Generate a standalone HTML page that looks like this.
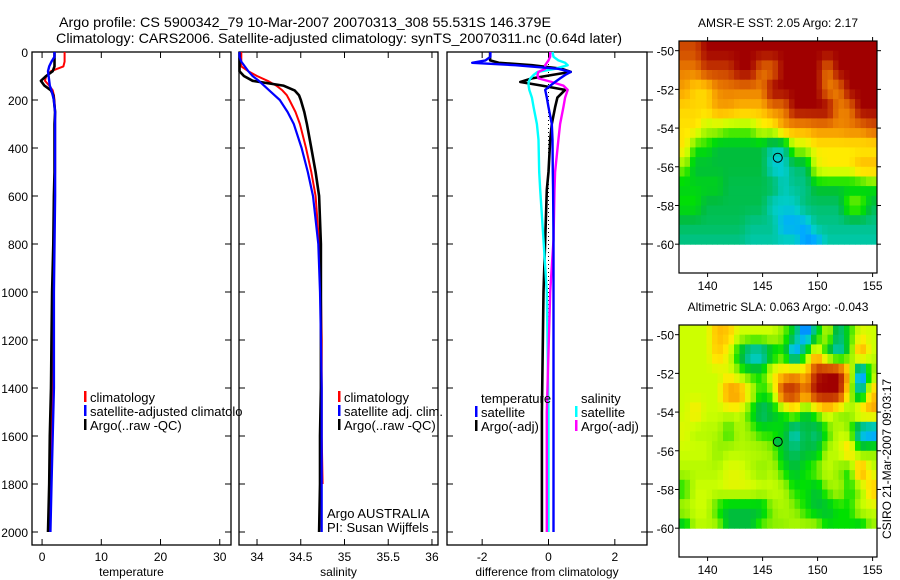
<!DOCTYPE html>
<html><head><meta charset="utf-8">
<style>
html,body{margin:0;padding:0;background:#fff;}
svg{display:block;font-family:"Liberation Sans",sans-serif;}
text{fill:#000;}
</style></head>
<body>
<svg id="fig" width="900" height="580" viewBox="0 0 900 580" xmlns="http://www.w3.org/2000/svg">
<defs><clipPath id="clip1"><rect x="32" y="0" width="210" height="580"/></clipPath></defs>
<text x="59" y="27" font-size="14" textLength="492" lengthAdjust="spacingAndGlyphs">Argo profile: CS 5900342_79 10-Mar-2007 20070313_308 55.531S 146.379E</text>
<text x="56" y="43" font-size="14" textLength="566" lengthAdjust="spacingAndGlyphs">Climatology: CARS2006. Satellite-adjusted climatology: synTS_20070311.nc (0.64d later)</text>
<g id="layer"></g>
</svg>
<script>
// ---- profile data ----
const depths = [0,20,40,60,80,100,120,140,160,180,200,250,300,400,500,600,800,1000,1200,1400,1600,1800,2000];
const climT = [3.8,3.8,3.8,3.6,1.5,0.7,0.5,1.2,1.8,2.0,2.1,2.2,2.2,2.2,2.2,2.1,2.0,1.9,1.8,1.7,1.6,1.4,1.2];
const satT  = [2.1,2.1,1.6,1.2,1.0,1.1,1.2,1.3,1.6,1.8,2.0,2.2,2.2,2.2,2.2,2.2,2.1,2.0,2.0,2.0,1.8,1.6,1.4];
const argoT = [2.1,2.1,2.1,2.1,1.8,0.7,-0.2,0.4,1.5,1.9,2.0,2.2,2.1,2.1,2.1,2.0,1.9,1.7,1.6,1.5,1.3,1.2,1.0];
const climS = [33.82,33.82,33.82,33.82,33.9,34.0,34.12,34.22,34.29,34.34,34.37,34.44,34.49,34.56,34.62,34.67,34.71,34.73,34.74,34.74,34.74,34.75,34.74];
const satS  = [33.8,33.8,33.82,33.86,33.9,33.95,34.02,34.08,34.14,34.2,34.26,34.35,34.42,34.51,34.58,34.64,34.7,34.72,34.73,34.74,34.74,34.74,34.74];
const argoS = [33.8,33.8,33.8,33.8,33.8,33.85,33.95,34.3,34.43,34.48,34.5,34.54,34.57,34.62,34.67,34.71,34.73,34.73,34.73,34.73,34.72,34.72,34.71];
const diffDepths = [0,20,35,45,55,70,83,96,110,125,140,158,190,230,300,366,500,575,783,1000,1500,2000];
const dTempSat  = [-1.75,-1.75,-1.9,-2.3,-1.0,0.3,0.67,0.5,0.35,0.2,0.05,-0.1,-0.05,0.0,0.1,0.12,0.13,0.14,0.15,0.15,0.15,0.15];
const dTempArgo = [-1.76,-1.76,-1.76,-1.5,-0.5,0.4,0.67,0.1,-0.5,-0.85,-0.2,0.5,0.27,0.2,0.1,0.05,0.0,-0.05,-0.1,-0.15,-0.2,-0.2];
const dSalSat   = [0.12,0.15,0.3,0.5,0.58,0.2,-0.33,-0.45,-0.55,-0.6,-0.6,-0.58,-0.5,-0.45,-0.35,-0.3,-0.28,-0.25,-0.15,-0.05,0.0,0.0];
const dSalArgo  = [0.05,0.05,0.0,-0.05,-0.1,-0.1,-0.3,-0.33,-0.3,0.1,0.45,0.58,0.5,0.45,0.35,0.3,0.2,0.18,0.15,0.05,-0.05,-0.05];
const depthTicks = [0,200,400,600,800,1000,1200,1400,1600,1800,2000];
const tempTicks = [0,10,20,30];
const salTicks = [34,34.5,35,35.5,36];
const diffTicks = [-2,0,2];
// ---- map data (colour index 0..1), rows from -50 southward, 18 cols of 1 deg from 137.9E (cell centres) ----
const sstGrid = [
[0.88,0.88,1,1,1,1,1,1,1,1,1,1,1,1,1,1,1,1],
[0.8,0.8,0.9,0.9,0.9,1,1,0.82,0.82,1,1,1,1,0.8,1,1,1,1],
[0.75,0.68,0.68,0.78,0.8,0.8,0.8,0.8,1,1,1,1,1,0.8,0.8,1,1,1],
[0.68,0.68,0.68,0.75,0.75,0.72,0.72,0.72,0.8,0.8,1,1,1,1,0.8,0.8,1,1],
[0.66,0.66,0.58,0.58,0.55,0.55,0.55,0.62,0.62,0.75,0.75,0.75,0.78,0.78,0.78,0.8,0.8,0.85],
[0.66,0.5,0.5,0.45,0.45,0.45,0.45,0.45,0.38,0.38,0.58,0.58,0.65,0.65,0.65,0.65,0.65,0.65],
[0.55,0.45,0.45,0.45,0.45,0.45,0.45,0.45,0.35,0.35,0.42,0.42,0.62,0.65,0.65,0.65,0.72,0.72],
[0.48,0.48,0.48,0.48,0.44,0.44,0.44,0.44,0.44,0.37,0.4,0.4,0.47,0.47,0.47,0.47,0.47,0.5],
[0.5,0.5,0.44,0.44,0.44,0.44,0.44,0.44,0.36,0.36,0.36,0.42,0.42,0.42,0.42,0.55,0.55,0.44],
[0.43,0.43,0.43,0.43,0.43,0.43,0.4,0.4,0.4,0.32,0.32,0.32,0.4,0.4,0.4,0.4,0.4,0.4],
[0.4,0.4,0.4,0.4,0.4,0.4,0.38,0.38,0.38,0.38,0.38,0.3,0.3,0.38,0.38,0.38,0.38,0.38]];
const slaGrid = [
[0.6,0.6,0.6,0.72,0.7,0.6,0.6,0.6,0.6,0.55,0.45,0.25,0.45,0.6,0.4,0.5,0.62,0.6],
[0.6,0.6,0.6,0.7,0.62,0.45,0.33,0.33,0.45,0.5,0.25,0.5,0.7,0.45,0.35,0.5,0.78,0.6],
[0.6,0.6,0.6,0.6,0.62,0.55,0.5,0.5,0.65,0.7,0.75,0.7,0.95,1,1,0.7,0.2,0.55],
[0.6,0.6,0.6,0.6,0.78,0.78,0.62,0.5,0.55,0.95,0.95,0.8,1,1,1,0.6,0.35,0.7],
[0.6,0.66,0.6,0.6,0.6,0.6,0.5,0.4,0.45,0.5,0.6,0.45,0.55,0.65,0.55,0.55,0.72,0.75],
[0.62,0.58,0.58,0.58,0.5,0.58,0.55,0.5,0.5,0.48,0.35,0.45,0.4,0.5,0.6,0.55,0.3,0.25],
[0.6,0.6,0.6,0.55,0.58,0.58,0.58,0.58,0.55,0.45,0.42,0.45,0.45,0.58,0.6,0.7,0.5,0.55],
[0.58,0.58,0.58,0.58,0.62,0.62,0.58,0.55,0.58,0.5,0.45,0.5,0.55,0.6,0.55,0.5,0.78,0.6],
[0.5,0.6,0.6,0.6,0.62,0.62,0.62,0.6,0.6,0.58,0.5,0.5,0.45,0.55,0.58,0.5,0.55,0.7],
[0.58,0.6,0.6,0.5,0.45,0.45,0.45,0.45,0.55,0.58,0.55,0.5,0.45,0.45,0.5,0.5,0.6,0.6],
[0.45,0.58,0.58,0.58,0.45,0.45,0.45,0.55,0.55,0.55,0.58,0.58,0.58,0.5,0.5,0.5,0.45,0.55]];
const lonTicks = [140,145,150,155];
const latTicks = [-50,-52,-54,-56,-58,-60];
const floatLon = 146.379, floatLat = -55.531;

const NS = "http://www.w3.org/2000/svg";
const layer = document.getElementById('layer');
function mk(tag, attrs, parent){ const e=document.createElementNS(NS,tag); for(const k in attrs) e.setAttribute(k,attrs[k]); (parent||layer).appendChild(e); return e; }
function txt(x,y,s,size,anchor,parent){ const t=mk('text',{x:x,y:y,'font-size':size,'text-anchor':anchor||'start'},parent); t.textContent=s; return t; }

const Y0=52, Y1=545;
const yD = d => 52 + d*0.24;

function panel(name, x0, x1, vmin, vmax, ticks, label, fmt){
  const g = mk('g',{});
  
  
  const xs = v => x0 + (v - vmin)/(vmax - vmin)*(x1 - x0);
  const fr = mk('rect',{x:x0,y:Y0,width:x1-x0,height:Y1-Y0,fill:'none',stroke:'#000','stroke-width':1.3},g);
  
  
  ticks.forEach(v=>{
    const x=xs(v);
    mk('line',{x1:x,x2:x,y1:Y0,y2:Y0+6,stroke:'#000'},g);
    mk('line',{x1:x,x2:x,y1:Y1,y2:Y1-6,stroke:'#000'},g);
    const t=txt(x,Y1+16,fmt(v),12,'middle',g);
    
    
  });
  depthTicks.forEach(d=>{
    const y=yD(d);
    mk('line',{x1:x0,x2:x0+6,y1:y,y2:y,stroke:'#000'},g);
    mk('line',{x1:x1,x2:x1-6,y1:y,y2:y,stroke:'#000'},g);
  });
  const lab=txt((x0+x1)/2, 576, label, 12, 'middle', g);
  
  
  return {g, xs};
}
function series(p, name, xs, ds, vals, color, w, dash){
  let d='';
  vals.forEach((v,i)=>{ d += (i?'L':'M') + xs(v).toFixed(1) + ',' + yD(ds[i]).toFixed(1); });
  const a={d:d,fill:'none',stroke:color,'stroke-width':w,'stroke-linejoin':'round'};
  if(dash) a['stroke-dasharray']=dash;
  const path = mk('path',a,p);
  
  
}
function legend(p, x, y, color, label, name){
  if(color){
    const b = mk('rect',{x:x-6,y:y-11,width:2.5,height:11,fill:color},p);
    
    
  }
  const t = txt(x, y, label, 13, 'start', p);
  
  
  return t;
}

depthTicks.forEach(d=>{
  const t=txt(28, yD(d)+5, String(d), 12, 'end');
  
  
});

// Panel 1 temperature
const p1 = panel('temperature-panel', 32, 231, -1.7, 31.9, tempTicks, 'temperature', v=>String(v));
series(p1.g,'temp-climatology-line',p1.xs,depths,climT,'#f00',2);
series(p1.g,'temp-argo-line',p1.xs,depths,argoT,'#000',2.6);
series(p1.g,'temp-satellite-adjusted-line',p1.xs,depths,satT,'#00f',2.4);
const lg1 = mk('g',{'clip-path':'url(#clip1)'},p1.g);
legend(lg1, 90, 402, '#f00', 'climatology', 'temp-legend-climatology');
legend(lg1, 90, 416, '#00f', 'satellite-adjusted climatology', 'temp-legend-satellite');
legend(lg1, 90, 430, '#000', 'Argo(..raw -QC)', 'temp-legend-argo');

// Panel 2 salinity
const p2 = panel('salinity-panel', 239, 438, 33.794, 36.069, salTicks, 'salinity', v=>String(v));
series(p2.g,'sal-climatology-line',p2.xs,depths.slice(0,22),climS.slice(0,22),'#f00',2);
series(p2.g,'sal-argo-line',p2.xs,depths,argoS,'#000',2.6);
series(p2.g,'sal-satellite-adjusted-line',p2.xs,depths,satS,'#00f',2.2);
legend(p2.g, 344, 402, '#f00', 'climatology', 'sal-legend-climatology');
legend(p2.g, 344, 416, '#00f', 'satellite adj. clim.', 'sal-legend-satellite');
legend(p2.g, 344, 430, '#000', 'Argo(..raw -QC)', 'sal-legend-argo');
legend(p2.g, 327, 518, null, 'Argo AUSTRALIA', 'argo-australia-note');
legend(p2.g, 327, 532, null, 'PI: Susan Wijffels', 'pi-note');

// Panel 3 difference
const p3 = panel('difference-panel', 447, 647, -3.06, 2.97, diffTicks, 'difference from climatology', v=>String(v));
depthTicks.forEach(d=>{ mk('line',{x1:647,x2:653,y1:yD(d),y2:yD(d),stroke:'#000'},p3.g); });
series(p3.g,'zero-reference-line',p3.xs,[0,2000],[0,0],'#000',1,'1,3');
series(p3.g,'diff-temp-argo-line',p3.xs,diffDepths,dTempArgo,'#000',2.6);
series(p3.g,'diff-sal-satellite-line',p3.xs,diffDepths,dSalSat,'#0ff',2.4);
series(p3.g,'diff-sal-argo-line',p3.xs,diffDepths,dSalArgo,'#f0f',2.4);
series(p3.g,'diff-temp-satellite-line',p3.xs,diffDepths,dTempSat,'#00f',2.4);
legend(p3.g, 481, 403, null, 'temperature', 'diff-legend-temperature-header');
legend(p3.g, 481, 417, '#00f', 'satellite', 'diff-legend-temp-satellite');
legend(p3.g, 481, 431, '#000', 'Argo(-adj)', 'diff-legend-temp-argo');
legend(p3.g, 581, 403, null, 'salinity', 'diff-legend-salinity-header');
legend(p3.g, 581, 417, '#0ff', 'satellite', 'diff-legend-sal-satellite');
legend(p3.g, 581, 431, '#f0f', 'Argo(-adj)', 'diff-legend-sal-argo');

// ---- maps ----
const cmapStops = [[0,[0,0,140]],[0.15,[0,0,170]],[0.25,[0,90,255]],[0.32,[0,170,255]],[0.36,[0,205,205]],[0.4,[0,195,140]],[0.45,[0,190,60]],[0.5,[0,225,0]],[0.55,[140,240,0]],[0.6,[205,255,0]],[0.65,[255,235,0]],[0.72,[255,185,0]],[0.8,[235,125,0]],[0.9,[200,60,0]],[1,[160,0,0]]];
function cmap(v){
  for(let i=1;i<cmapStops.length;i++){
    const a=cmapStops[i-1], b=cmapStops[i];
    if(v<=b[0]){ const t=(v-a[0])/(b[0]-a[0]); return 'rgb('+a[1].map((c,k)=>Math.round(c+(b[1][k]-c)*t)).join(',')+')'; }
  }
  return 'rgb(160,0,0)';
}
function sample(grid, r, c){
  r=Math.max(0,Math.min(grid.length-1,r)); c=Math.max(0,Math.min(grid[0].length-1,c));
  const r0=Math.floor(r), c0=Math.floor(c), r1=Math.min(r0+1,grid.length-1), c1=Math.min(c0+1,grid[0].length-1);
  const fr=r-r0, fc=c-c0;
  return (grid[r0][c0]*(1-fc)+grid[r0][c1]*fc)*(1-fr)+(grid[r1][c0]*(1-fc)+grid[r1][c1]*fc)*fr;
}
function map(name, top, grid, title, filledMarker){
  const g = mk('g',{});
  
  
  const L=679, R=877, T=top, B=top+232;
  const lonMin=137.4, lonMax=155.4;
  const latTop=-49.5, pxPerDeg=19.35;
  const xl = lon => L + (lon-lonMin)/(lonMax-lonMin)*(R-L);
  const yl = lat => T + (latTop-lat)*pxPerDeg;
  const step=0.5;
  for(let la=latTop; la>-60+1e-6; la-=step){
    const la1=Math.max(la-step,-60);
    for(let lo=lonMin; lo<lonMax-1e-6; lo+=step){
      const r=(latTop-(la-step/2))-0.5, c=(lo+step/2-lonMin)-0.5;
      const v=sample(grid,r,c);
      const x0=xl(lo), x1=xl(lo+step);
      const cell = mk('rect',{x:x0.toFixed(1),y:yl(la).toFixed(1),width:(x1-x0+0.5).toFixed(1),height:(yl(la1)-yl(la)+0.5).toFixed(1),fill:cmap(v)},g);
      
      
    }
  }
  const fr = mk('rect',{x:L,y:T,width:R-L,height:B-T,fill:'none',stroke:'#000','stroke-width':1.2},g);
  
  
  lonTicks.forEach(lo=>{
    const x=xl(lo);
    mk('line',{x1:x,x2:x,y1:T,y2:T-4,stroke:'#000'},g);
    mk('line',{x1:x,x2:x,y1:B,y2:B+4,stroke:'#000'},g);
    const t=txt(x, B+17, String(lo), 12, 'middle', g);
    
    
  });
  latTicks.forEach(la=>{
    const y=yl(la);
    mk('line',{x1:L,x2:L-4,y1:y,y2:y,stroke:'#000'},g);
    mk('line',{x1:R,x2:R+4,y1:y,y2:y,stroke:'#000'},g);
    const t=txt(674, y+5, String(la), 12, 'end', g);
    
    
  });
  const c = mk('circle',{cx:xl(floatLon),cy:yl(floatLat),r:4.5,fill:filledMarker?'#00c040':'none',stroke:'#000','stroke-width':1},g);
  
  
  const tt = txt(778, T-14, title, 12, 'middle', g);
  
  
}
map('sst-map', 41, sstGrid, 'AMSR-E SST: 2.05 Argo: 2.17', false);
map('sla-map', 325, slaGrid, 'Altimetric SLA: 0.063 Argo: -0.043', true);
const stamp = txt(0,0,'CSIRO 21-Mar-2007 09:03:17',12,'middle');
stamp.setAttribute('transform','translate(891,459) rotate(-90)');


</script>
</body></html>
